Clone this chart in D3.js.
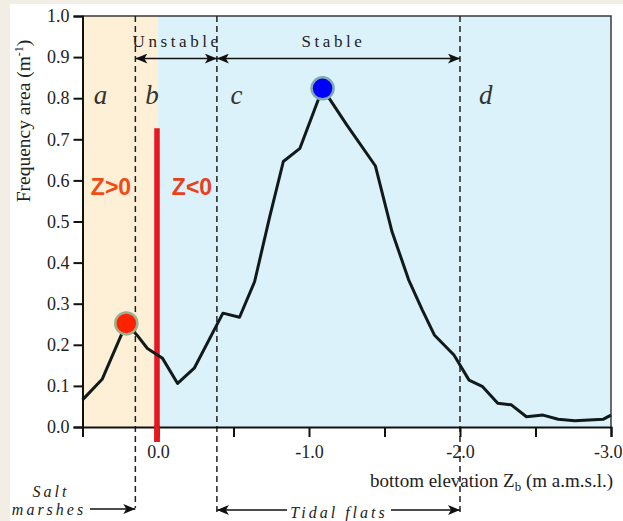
<!DOCTYPE html>
<html><head><meta charset="utf-8">
<script src="https://cdn.jsdelivr.net/npm/d3@7"></script>
<style>
html,body{margin:0;padding:0;background:#f3eee5;}
svg{display:block;}
</style></head>
<body>
<script>
// ---- data ----
const elevation = [0.50, 0.37, 0.21, 0.14, 0.07, -0.03, -0.13, -0.24, -0.43, -0.54, -0.64, -0.74, -0.83, -0.94, -1.09, -1.25, -1.44, -1.55, -1.66, -1.75, -1.83, -1.96, -2.06, -2.15, -2.25, -2.34, -2.44, -2.55, -2.65, -2.76, -2.95, -3.00];
const frequency = [0.066, 0.116, 0.252, 0.224, 0.191, 0.167, 0.106, 0.143, 0.277, 0.267, 0.354, 0.512, 0.646, 0.678, 0.824, 0.735, 0.635, 0.475, 0.358, 0.285, 0.224, 0.175, 0.114, 0.098, 0.058, 0.054, 0.025, 0.029, 0.019, 0.015, 0.019, 0.029];
const xTickValues = [0.5, 0.0, -0.5, -1.0, -1.5, -2.0, -2.5, -3.0];
const xTickLabels = ["", "0.0", "", "-1.0", "", "-2.0", "", "-3.0"];
const yTickValues = [0, 0.1, 0.2, 0.3, 0.4, 0.5, 0.6, 0.7, 0.8, 0.9, 1.0];
const boundaries = [0.15, -0.39, -2.0];      // dashed zone limits
const zoneLetters = ["a", "b", "c", "d"];
const zoneLetterX = [0.38, 0.04, -0.52, -2.17];
const zeroLine = [0.0, 0.727];                // red bar: elevation, top
const redPeak = [0.21, 0.252];
const bluePeak = [-1.09, 0.824];

const W = 623, H = 521;
const svg = d3.select("body").append("svg").attr("width", W).attr("height", H);
svg.append("rect").attr("x", 10).attr("y", 4).attr("width", W - 10).attr("height", H - 4).attr("fill", "#ffffff");

const x = d3.scaleLinear().domain([0.5, -3.0]).range([82.5, 611]);
const y = d3.scaleLinear().domain([0, 1]).range([427, 16]);

// backgrounds
svg.append("rect").attr("x", x(0.5)).attr("y", y(1)).attr("width", x(0) - x(0.5)).attr("height", y(0) - y(1)).attr("fill", "#fdf0d6");
svg.append("rect").attr("x", x(0)).attr("y", y(1)).attr("width", x(-3) - x(0)).attr("height", y(0) - y(1)).attr("fill", "#dcf2fb");

// frame top/right
svg.append("path").attr("d", `M${x(0.5)},${y(1)}H${x(-3)}V${y(0)}`).attr("fill", "none").attr("stroke", "#3a3a3a").attr("stroke-width", 1.5);

// dashed boundaries
const dashBottom = [508, 516, 513];
boundaries.forEach((b, i) => {
  svg.append("line").attr("x1", x(b)).attr("x2", x(b)).attr("y1", y(1)).attr("y2", dashBottom[i])
    .attr("stroke", "#222").attr("stroke-width", 1.5).attr("stroke-dasharray", "6,4");
});

// arrow marker
const defs = svg.append("defs");
defs.append("marker").attr("id", "ah").attr("viewBox", "0 0 12 10").attr("refX", 12).attr("refY", 5)
  .attr("markerWidth", 13).attr("markerHeight", 10).attr("markerUnits", "userSpaceOnUse").attr("orient", "auto-start-reverse")
  .append("path").attr("d", "M0,0 L12,5 L0,10 L3,5 Z").attr("fill", "#111");

function arrow(x1, x2, yy, start, end) {
  const l = svg.append("line").attr("x1", x1).attr("x2", x2).attr("y1", yy).attr("y2", yy)
    .attr("stroke", "#111").attr("stroke-width", 1.5);
  if (start) l.attr("marker-start", "url(#ah)");
  if (end) l.attr("marker-end", "url(#ah)");
}
const yArrow = y(0.9) + 1.5;
arrow(x(boundaries[0]), x(boundaries[1]), yArrow, true, true);
arrow(x(boundaries[1]), x(boundaries[2]), yArrow, true, true);

const serif = "'Liberation Serif','Times New Roman',serif";
svg.append("text").attr("x", (x(boundaries[0]) + x(boundaries[1])) / 2 + 1).attr("y", 47)
  .attr("text-anchor", "middle").attr("font-family", serif).attr("font-size", 17).attr("letter-spacing", 3.6).attr("fill", "#222").text("Unstable");
svg.append("text").attr("x", (x(boundaries[1]) + x(boundaries[2])) / 2 - 5).attr("y", 47)
  .attr("text-anchor", "middle").attr("font-family", serif).attr("font-size", 17).attr("letter-spacing", 3.6).attr("fill", "#222").text("Stable");

// zone letters
zoneLetters.forEach((t, i) => {
  svg.append("text").attr("x", x(zoneLetterX[i])).attr("y", 104).attr("text-anchor", "middle")
    .attr("font-family", serif).attr("font-style", "italic").attr("font-size", 27).attr("fill", "#333").text(t);
});

// red zero bar
svg.append("line").attr("x1", x(zeroLine[0]) - 1).attr("x2", x(zeroLine[0]) - 1).attr("y1", y(zeroLine[1])).attr("y2", y(0) + 15)
  .attr("stroke", "#e8161e").attr("stroke-width", 5.5);

// Z labels
svg.append("text").attr("x", 111).attr("y", 195).attr("text-anchor", "middle").attr("font-family", "'Liberation Sans',Arial,sans-serif")
  .attr("font-weight", "bold").attr("font-size", 23).attr("fill", "#f24a14").text("Z>0");
svg.append("text").attr("x", 192).attr("y", 195).attr("text-anchor", "middle").attr("font-family", "'Liberation Sans',Arial,sans-serif")
  .attr("font-weight", "bold").attr("font-size", 23).attr("fill", "#e8401c").text("Z<0");

// curve
const pts = elevation.map((e, i) => [e, frequency[i]]);
svg.append("path").datum(pts).attr("fill", "none").attr("stroke", "#111a1a").attr("stroke-width", 3)
  .attr("stroke-linejoin", "round")
  .attr("d", d3.line().x(d => x(d[0])).y(d => y(d[1])));

// peaks
svg.append("circle").attr("cx", x(redPeak[0])).attr("cy", y(redPeak[1])).attr("r", 11)
  .attr("fill", "#ff2200").attr("stroke", "#9fae8e").attr("stroke-width", 2.5);
svg.append("circle").attr("cx", x(bluePeak[0])).attr("cy", y(bluePeak[1])).attr("r", 11)
  .attr("fill", "#0000ff").attr("stroke", "#7fa9b3").attr("stroke-width", 2.5);

// axes
const yAxis = d3.axisLeft(y).tickValues(yTickValues).tickFormat(d3.format(".1f")).tickSize(9).tickPadding(4);
const gy = svg.append("g").attr("transform", `translate(${x(0.5)},0)`).call(yAxis);
const xAxis = d3.axisBottom(x).tickValues(xTickValues).tickFormat((d, i) => xTickLabels[i]).tickSize(10).tickPadding(8);
const gx = svg.append("g").attr("transform", `translate(0,${y(0)})`).call(xAxis);
[gx, gy].forEach(g => {
  g.select(".domain").attr("stroke", "#111").attr("stroke-width", 2);
  g.selectAll(".tick line").attr("stroke", "#111").attr("stroke-width", 2);
  g.selectAll(".tick text").attr("font-family", serif).attr("font-size", 18).attr("fill", "#222");
});
gx.selectAll(".tick text").attr("text-anchor", "middle");
gx.selectAll(".tick text").filter(d => d === -3.0).attr("text-anchor", "end").attr("dx", 11);
// re-draw red bar over x axis
svg.append("line").attr("x1", x(zeroLine[0]) - 1).attr("x2", x(zeroLine[0]) - 1).attr("y1", y(0) - 2).attr("y2", y(0) + 15)
  .attr("stroke", "#e8161e").attr("stroke-width", 5.5);

// y axis title
const yt = svg.append("text").attr("transform", "translate(30,121) rotate(-90)").attr("text-anchor", "middle")
  .attr("font-family", serif).attr("font-size", 19.5).attr("fill", "#222");
yt.append("tspan").text("Frequency area (m");
yt.append("tspan").attr("font-size", 12).attr("dy", -7).text("-1");
yt.append("tspan").attr("dy", 7).text(")");

// x axis title
const xt = svg.append("text").attr("x", 613).attr("y", 487).attr("text-anchor", "end")
  .attr("font-family", serif).attr("font-size", 19).attr("fill", "#222");
xt.append("tspan").text("bottom elevation Z");
xt.append("tspan").attr("font-size", 13).attr("dy", 4).text("b");
xt.append("tspan").attr("dy", -4).text(" (m a.m.s.l.)");

// Salt marshes
svg.append("text").attr("x", 51).attr("y", 497).attr("text-anchor", "middle").attr("font-family", serif)
  .attr("font-style", "italic").attr("font-size", 16).attr("letter-spacing", 3).attr("fill", "#222").text("Salt");
svg.append("text").attr("x", 49).attr("y", 515).attr("text-anchor", "middle").attr("font-family", serif)
  .attr("font-style", "italic").attr("font-size", 16).attr("letter-spacing", 3).attr("fill", "#222").text("marshes");
arrow(90, x(boundaries[0]), 509, false, true);

// Tidal flats
svg.append("text").attr("x", 339).attr("y", 518).attr("text-anchor", "middle").attr("font-family", serif)
  .attr("font-style", "italic").attr("font-size", 16).attr("letter-spacing", 3).attr("fill", "#222").text("Tidal flats");
arrow(x(boundaries[1]), 287, 510, true, false);
arrow(391, x(boundaries[2]), 510, false, true);
</script>
</body></html>
